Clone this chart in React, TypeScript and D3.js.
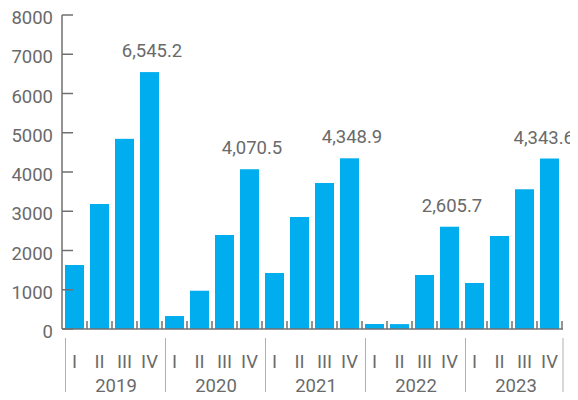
import React from "react";
import * as d3 from "d3";

const years = ["2019", "2020", "2021", "2022", "2023"];
const quarters = ["I", "II", "III", "IV"];
const values = [
  1630, 3185, 4845, 6545.2,
  330, 975, 2395, 4070.5,
  1427, 2853, 3720, 4348.9,
  127, 125, 1376, 2605.7,
  1172, 2370, 3560, 4343.6,
];
const labelled = [3, 7, 11, 15, 19];
const yTicks = [0, 1000, 2000, 3000, 4000, 5000, 6000, 7000, 8000];

const W = 578, H = 400;
const FONT = "Roboto, 'Noto Sans', sans-serif";
const TEXT = "#6a6a6a";
const AXIS = "#707070";
const BAR = "#00ADEE";
const FS = 18.5;

export default function App() {
  const keys = values.map((_, i) => `${years[Math.floor(i / 4)]}-${quarters[i % 4]}`);
  const x = d3.scaleBand<string>().domain(keys).range([62, 562]).paddingInner(0.24).paddingOuter(0.12);
  const y = d3.scaleLinear().domain([0, 8000]).range([329, 15]);
  const step = x.step();
  const x0 = 62;
  const fmt = d3.format(",.1f");

  return (
    <div style={{ margin: -8 }}>
      <svg width={W} height={H} style={{ display: "block" }} fontFamily={FONT}>
        {values.map((v, i) => (
          <rect key={i} x={x(keys[i])} y={y(v)} width={x.bandwidth()} height={y(0) - y(v)} fill={BAR} />
        ))}
        {/* y axis */}
        <line x1={x0} x2={x0} y1={y(8000)} y2={y(0)} stroke={AXIS} strokeWidth={1.5} />
        {yTicks.map((t) => (
          <g key={t}>
            <line x1={x0} x2={x0 + 11} y1={y(t)} y2={y(t)} stroke={AXIS} strokeWidth={1.5} />
            <text x={53} y={y(t) + 9} textAnchor="end" fontSize={FS} fill={TEXT}>{t}</text>
          </g>
        ))}
        {/* x axis */}
        <line x1={x0} x2={x0 + step * values.length + 1} y1={y(0)} y2={y(0)} stroke={AXIS} strokeWidth={1.5} />
        {d3.range(1, values.length + 1).map((i) => (
          <line key={i} x1={x0 + i * step} x2={x0 + i * step} y1={y(0) - 8} y2={y(0)} stroke={AXIS} strokeWidth={1.5} />
        ))}
        {keys.map((k, i) => (
          <text key={k} x={(x(k) ?? 0) + x.bandwidth() / 2} y={368} textAnchor="middle" fontSize={FS} fill={TEXT}>
            {quarters[i % 4]}
          </text>
        ))}
        {d3.range(0, years.length + 1).map((g) => {
          const sx = x0 + g * step * 4 + (g < years.length ? 3.5 : 1);
          return <line key={g} x1={sx} x2={sx} y1={338} y2={400} stroke="#b0b0b0" strokeWidth={1} />;
        })}
        {years.map((yr, g) => (
          <text key={yr} x={x0 + g * step * 4 + step * 2 + 4} y={392} textAnchor="middle" fontSize={FS} fill={TEXT}>
            {yr}
          </text>
        ))}
        {labelled.map((i) => {
          const s = fmt(values[i]);
          const half = (s.length * 0.5 * FS) / 2;
          const cx = (x(keys[i]) ?? 0) + x.bandwidth() / 2 + 2.5;
          const clamp = cx + half > W - 4;
          return (
            <text key={i} x={clamp ? W - 4 : cx} y={y(values[i]) - 15} textAnchor={clamp ? "end" : "middle"} fontSize={FS} fill={TEXT}>
              {s}
            </text>
          );
        })}
      </svg>
    </div>
  );
}
